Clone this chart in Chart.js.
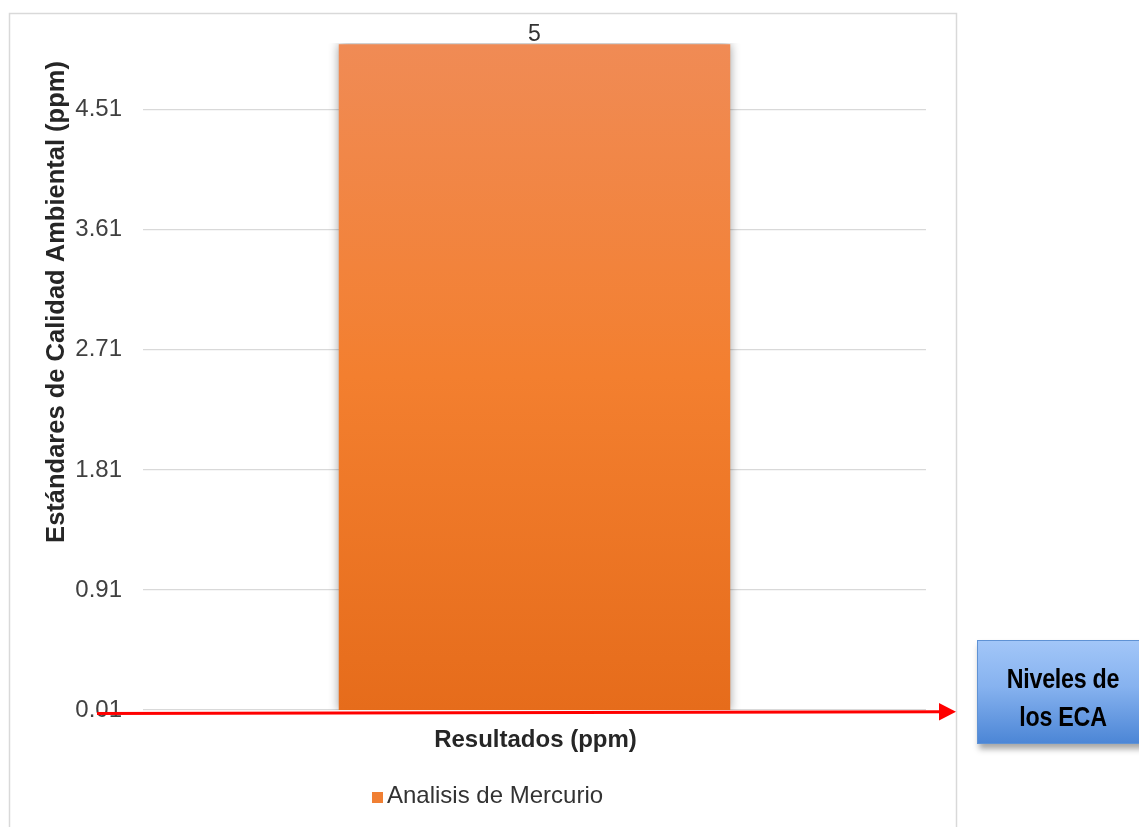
<!DOCTYPE html>
<html>
<head>
<meta charset="utf-8">
<script src="https://cdn.jsdelivr.net/npm/chart.js@4"></script>
<style>
  html, body { margin: 0; padding: 0; background: #ffffff; overflow: hidden; width: 1139px; height: 827px; }
  #wrap { position: relative; width: 1139px; height: 827px; }
  canvas { position: absolute; left: 0; top: 0; }
  #eca {
    position: absolute; left: 977px; top: 640px; width: 172px; height: 104px;
    background: linear-gradient(to bottom, #a2c6f8 0%, #86b2ef 45%, #4c86d6 100%);
    border: 1px solid #5f92d4;
    box-shadow: 2px 5px 6px rgba(0,0,0,0.35);
    box-sizing: border-box;
  }
  #eca .txt {
    position: absolute; left: 0; top: 19px; width: 170px;
    text-align: center;
    font-family: "Liberation Sans", Arial, sans-serif;
    font-weight: bold; font-size: 28px; line-height: 38px; color: #000;
    transform: scaleX(0.83); transform-origin: 50% 50%;
    letter-spacing: -0.3px;
  }
</style>
</head>
<body>
<div id="wrap">
  <canvas id="c" width="1139" height="827"></canvas>
  <div id="eca"><div class="txt">Niveles de<br>los ECA</div></div>
</div>
<script>
const categories = ["Resultados (ppm)"];
const seriesName = "Analisis de Mercurio";
const seriesValues = [5];
const yTickValues = [0.01, 0.91, 1.81, 2.71, 3.61, 4.51];
const yTickLabels = ["0.01", "0.91", "1.81", "2.71", "3.61", "4.51"];
const yAxisTitle = "Estándares de Calidad Ambiental (ppm)";
const xAxisTitle = "Resultados (ppm)";
const yMin = 0.01;
const yMax = 5.01;

const FONT = '"Liberation Sans", Arial, sans-serif';

function barGradient(context) {
  const chart = context.chart;
  const a = chart.chartArea;
  if (!a) return '#f27f31';
  const g = chart.ctx.createLinearGradient(0, a.top, 0, a.bottom);
  g.addColorStop(0, '#f08b55');
  g.addColorStop(0.5, '#f37f2f');
  g.addColorStop(1, '#e66c1b');
  return g;
}

const decor = {
  id: 'decor',
  beforeDraw(chart) {
    const ctx = chart.ctx;
    ctx.save();
    ctx.strokeStyle = '#d9d9d9';
    ctx.lineWidth = 1.5;
    ctx.strokeRect(9.5, 13.5, 947, 900);
    ctx.restore();
  },
  beforeDatasetsDraw(chart) {
    const ctx = chart.ctx;
    ctx.save();
    ctx.shadowColor = 'rgba(0,0,0,0.4)';
    ctx.shadowBlur = 10;
    ctx.shadowOffsetX = 0;
    ctx.shadowOffsetY = 0;
  },
  afterDatasetsDraw(chart) {
    chart.ctx.restore();
  },
  afterDraw(chart) {
    const ctx = chart.ctx;
    const a = chart.chartArea;
    const meta = chart.getDatasetMeta(0);
    ctx.save();
    // data labels
    ctx.fillStyle = '#333333';
    ctx.font = '23px ' + FONT;
    ctx.textAlign = 'center';
    ctx.textBaseline = 'alphabetic';
    meta.data.forEach((el, i) => {
      ctx.fillText(String(seriesValues[i]), el.x, el.y - 3);
    });
    // x axis title
    ctx.fillStyle = '#262626';
    ctx.font = 'bold 24px ' + FONT;
    ctx.fillText(xAxisTitle, (a.left + a.right) / 2 + 1, 747);
    // y axis title
    ctx.save();
    ctx.translate(64, 302);
    ctx.rotate(-Math.PI / 2);
    ctx.font = 'bold 25.5px ' + FONT;
    ctx.textAlign = 'center';
    ctx.fillText(yAxisTitle, 0, 0);
    ctx.restore();
    // legend
    ctx.fillStyle = '#f07f33';
    ctx.fillRect(372, 792, 11, 11);
    ctx.fillStyle = '#333333';
    ctx.font = '24px ' + FONT;
    ctx.textAlign = 'left';
    ctx.fillText(seriesName, 387, 803);
    // red arrow
    ctx.strokeStyle = '#ff0000';
    ctx.lineWidth = 3;
    ctx.beginPath();
    ctx.moveTo(97, 713.5);
    ctx.lineTo(941, 711.8);
    ctx.stroke();
    ctx.fillStyle = '#ff0000';
    ctx.beginPath();
    ctx.moveTo(939, 703);
    ctx.lineTo(956, 711.7);
    ctx.lineTo(939, 720.5);
    ctx.closePath();
    ctx.fill();
    ctx.restore();
  }
};

new Chart(document.getElementById('c'), {
  type: 'bar',
  data: {
    labels: categories,
    datasets: [{
      label: seriesName,
      data: seriesValues,
      backgroundColor: barGradient,
      borderWidth: 0,
      barPercentage: 0.5,
      categoryPercentage: 1.0
    }]
  },
  options: {
    responsive: false,
    devicePixelRatio: 1,
    animation: false,
    layout: { padding: { top: 43, right: 213, bottom: 0, left: 0 } },
    plugins: {
      legend: { display: false },
      tooltip: { enabled: false },
      title: { display: false }
    },
    scales: {
      x: {
        ticks: { display: false },
        grid: { display: false },
        border: { display: false },
        afterFit(s) { s.height = 117; }
      },
      y: {
        min: yMin,
        max: yMax,
        afterBuildTicks(s) { s.ticks = yTickValues.map(v => ({ value: v })); },
        afterFit(s) { s.width = 143; },
        ticks: {
          padding: 21,
          color: '#404040',
          font: { family: FONT, size: 24 },
          callback(value, index) { return yTickLabels[index]; }
        },
        grid: { color: '#d9d9d9', lineWidth: 1.2, drawTicks: false },
        border: { display: false }
      }
    }
  },
  plugins: [decor]
});
</script>
</body>
</html>
